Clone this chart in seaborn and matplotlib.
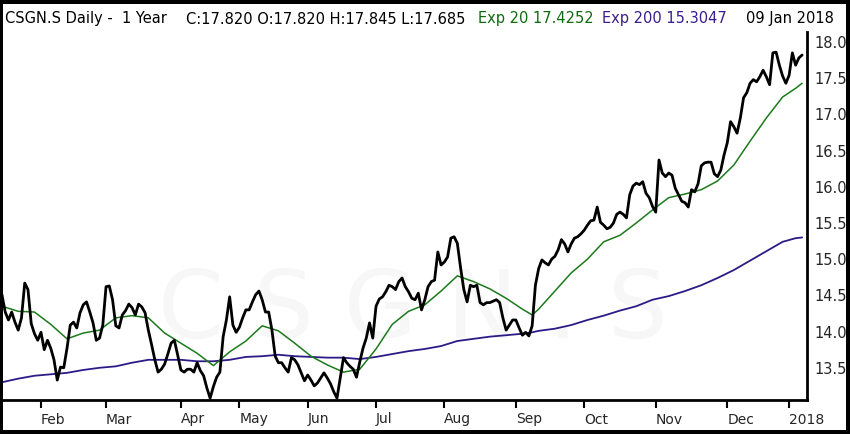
import matplotlib
matplotlib.use("Agg")
import matplotlib.pyplot as plt
import matplotlib.patches as mpatches
import numpy as np
import pandas as pd
import seaborn as sns

# SIX trading calendar for the window shown
holidays = ["2017-04-14", "2017-04-17", "2017-05-01", "2017-05-25", "2017-06-05",
            "2017-08-01", "2017-12-25", "2017-12-26", "2018-01-01", "2018-01-02"]
first_day = "2017-01-13"
last_day = "2018-01-09"

# daily close, one value per trading day
close = [
    14.53, 14.51, 14.27, 14.16, 14.27, 14.13, 14.02, 14.19, 14.67, 14.58, 14.11, 13.97, 13.88,
    13.99, 13.75, 13.88, 13.77, 13.61, 13.33, 13.51, 13.50, 13.77, 14.09, 14.13, 14.05, 14.26,
    14.37, 14.41, 14.27, 14.12, 13.88, 13.91, 14.09,
    14.62, 14.63, 14.44, 14.08, 14.05, 14.23, 14.29, 14.38, 14.33, 14.23, 14.38, 14.34, 14.26,
    14.02, 13.82, 13.61, 13.44, 13.48, 13.55, 13.69, 13.84, 13.88, 13.68,
    13.47, 13.44, 13.48, 13.48, 13.44, 13.57, 13.46, 13.39, 13.22, 13.08, 13.24, 13.37, 13.44,
    13.93, 14.16, 14.48, 14.09, 13.99,
    14.06, 14.19, 14.30, 14.30, 14.41, 14.51, 14.56, 14.44, 14.27, 14.27, 14.02, 13.66, 13.57,
    13.57, 13.50, 13.44, 13.64, 13.61, 13.54, 13.43, 13.32,
    13.40, 13.33, 13.25, 13.29, 13.36, 13.43, 13.36, 13.28, 13.17, 13.08, 13.36, 13.64, 13.57,
    13.52, 13.48, 13.37, 13.58, 13.77, 13.91, 14.12, 13.91,
    14.35, 14.45, 14.48, 14.55, 14.64, 14.62, 14.58, 14.69, 14.74, 14.62, 14.55, 14.46, 14.44,
    14.53, 14.30, 14.44, 14.62, 14.69, 14.71, 15.10, 14.92,
    14.96, 15.03, 15.29, 15.31, 15.22, 14.88, 14.58, 14.41, 14.64, 14.62, 14.64, 14.40, 14.37,
    14.40, 14.40, 14.42, 14.44, 14.40, 14.19, 14.02, 14.09, 14.16,
    14.16, 14.05, 13.95, 13.99, 13.94, 14.08, 14.64, 14.87, 14.99, 14.95, 14.92, 15.00, 15.04,
    15.13, 15.27, 15.21, 15.10, 15.21, 15.29, 15.31, 15.35,
    15.40, 15.47, 15.53, 15.54, 15.72, 15.51, 15.47, 15.42, 15.44, 15.50, 15.62, 15.65, 15.62,
    15.57, 15.89, 16.01, 16.05, 16.03, 16.07, 15.91, 15.85, 15.73,
    15.65, 16.37, 16.19, 16.14, 16.19, 16.16, 15.98, 15.89, 15.80, 15.78, 15.72, 15.96, 15.93,
    16.04, 16.29, 16.33, 16.34, 16.34, 16.18, 16.14, 16.23, 16.44,
    16.61, 16.90, 16.83, 16.74, 16.95, 17.23, 17.30, 17.43, 17.48, 17.45, 17.52, 17.61, 17.52,
    17.41, 17.85, 17.86, 17.68, 17.53, 17.43,
    17.54, 17.85, 17.68, 17.78, 17.82,
]

# moving averages
ema_dates = [
    "2017-01-16", "2017-01-23", "2017-01-30", "2017-02-06", "2017-02-13", "2017-02-20",
    "2017-02-27", "2017-03-06", "2017-03-13", "2017-03-20", "2017-03-27", "2017-04-03",
    "2017-04-10", "2017-04-19", "2017-04-26", "2017-05-04", "2017-05-11", "2017-05-18",
    "2017-05-26", "2017-06-02", "2017-06-12", "2017-06-19", "2017-06-26", "2017-07-03",
    "2017-07-10", "2017-07-17", "2017-07-24", "2017-07-31", "2017-08-08", "2017-08-15",
    "2017-08-22", "2017-08-29", "2017-09-05", "2017-09-08", "2017-09-12", "2017-09-19",
    "2017-09-26", "2017-10-03", "2017-10-10", "2017-10-17", "2017-10-24", "2017-10-31",
    "2017-11-07", "2017-11-14", "2017-11-21", "2017-11-28", "2017-12-05", "2017-12-12",
    "2017-12-19", "2017-12-28", "2018-01-05", "2018-01-09",
]
ema20 = [
    14.35, 14.28, 14.27, 14.10, 13.90, 13.98, 14.02, 14.19, 14.22, 14.19, 13.98, 13.84,
    13.70, 13.53, 13.72, 13.87, 14.08, 14.01, 13.84, 13.66, 13.54, 13.44, 13.48, 13.76,
    14.10, 14.28, 14.37, 14.56, 14.77, 14.69, 14.59, 14.46, 14.31, 14.23, 14.31, 14.56,
    14.81, 15.00, 15.24, 15.33, 15.50, 15.68, 15.85, 15.90, 15.96, 16.08, 16.30, 16.63,
    16.95, 17.24, 17.36, 17.43,
]
ema200 = [
    13.30, 13.35, 13.39, 13.41, 13.43, 13.47, 13.50, 13.52, 13.57, 13.61, 13.61, 13.61,
    13.59, 13.59, 13.61, 13.65, 13.66, 13.68, 13.66, 13.65, 13.64, 13.64, 13.62, 13.65,
    13.69, 13.73, 13.76, 13.80, 13.87, 13.90, 13.93, 13.95, 13.97, 13.99, 14.01, 14.04,
    14.09, 14.16, 14.22, 14.29, 14.35, 14.44, 14.49, 14.56, 14.64, 14.74, 14.85, 14.98,
    15.11, 15.24, 15.29, 15.30,
]
month_labels = ["Feb", "Mar", "Apr", "May", "Jun", "Jul", "Aug", "Sep", "Oct", "Nov", "Dec", "2018"]

days = pd.bdate_range(first_day, last_day, freq="C", holidays=holidays)
df = pd.DataFrame({"pos": np.arange(len(days)), "close": close}, index=days)
ema = pd.DataFrame({"pos": days.get_indexer(pd.to_datetime(ema_dates)),
                    "ema20": ema20, "ema200": ema200})

# first session of each month from February on
month_start = df.groupby(df.index.to_period("M"))["pos"].min().iloc[1:]

sns.set_style("white")
plt.rcParams["font.family"] = ["DejaVu Sans"]

W, H = 850, 434
fig = plt.figure(figsize=(W / 100, H / 100), dpi=100, facecolor="black")
fig.patches.append(mpatches.Rectangle((3 / W, 4 / H), 843 / W, 426 / H,
                                      transform=fig.transFigure, facecolor="white",
                                      edgecolor="none", zorder=-5))
ax = fig.add_axes([3 / W, 1 - 400 / H, 804 / W, 368 / H])
ax.set_facecolor("none")

# faint watermark
ax.text(0.51, 0.24, "C S G N . S", transform=ax.transAxes, ha="center", va="center",
        fontsize=68, color="#f7f7f7", zorder=0)

sns.lineplot(data=ema, x="pos", y="ema200", ax=ax, color="#2e1a86", lw=1.3, zorder=2)
sns.lineplot(data=ema, x="pos", y="ema20", ax=ax, color="#1c7a1c", lw=1.1, zorder=3)
sns.lineplot(data=df, x="pos", y="close", ax=ax, color="black", lw=2.0, zorder=4)

ax.set_xlim(1.32, 248.5)
ax.set_ylim(13.055, 18.138)
ax.set_xlabel("")
ax.set_ylabel("")

ax.set_xticks(month_start.values)
ax.set_xticklabels(month_labels, ha="left", fontsize=10)
ax.tick_params(axis="x", bottom=True, direction="out", length=6, width=1.5,
               color="black", pad=3)
ax.yaxis.tick_right()
ax.set_yticks(np.arange(13.5, 18.01, 0.5))
ax.set_yticklabels([f"{v:.1f}" for v in np.arange(13.5, 18.01, 0.5)], fontsize=10.5)
ax.tick_params(axis="y", length=0, pad=5)
for side in ["left", "top"]:
    ax.spines[side].set_visible(False)
for side in ["right", "bottom"]:
    ax.spines[side].set_color("black")
    ax.spines[side].set_linewidth(2)

hy = 1 - 19 / H
fig.text(5 / W, hy, "CSGN.S Daily -  1 Year", fontsize=10.5, va="center", color="black")
fig.text(186 / W, hy, "C:17.820 O:17.820 H:17.845 L:17.685", fontsize=10.5, va="center",
         color="black")
fig.text(478 / W, hy, "Exp 20 17.4252", fontsize=10.5, va="center", color="#0f6a0f")
fig.text(602 / W, hy, "Exp 200 15.3047", fontsize=10.5, va="center", color="#3a1d8c")
fig.text(746 / W, hy, "09 Jan 2018", fontsize=10.5, va="center", color="black")

plt.savefig("out.png", dpi=100, facecolor=fig.get_facecolor())
plt.close()
